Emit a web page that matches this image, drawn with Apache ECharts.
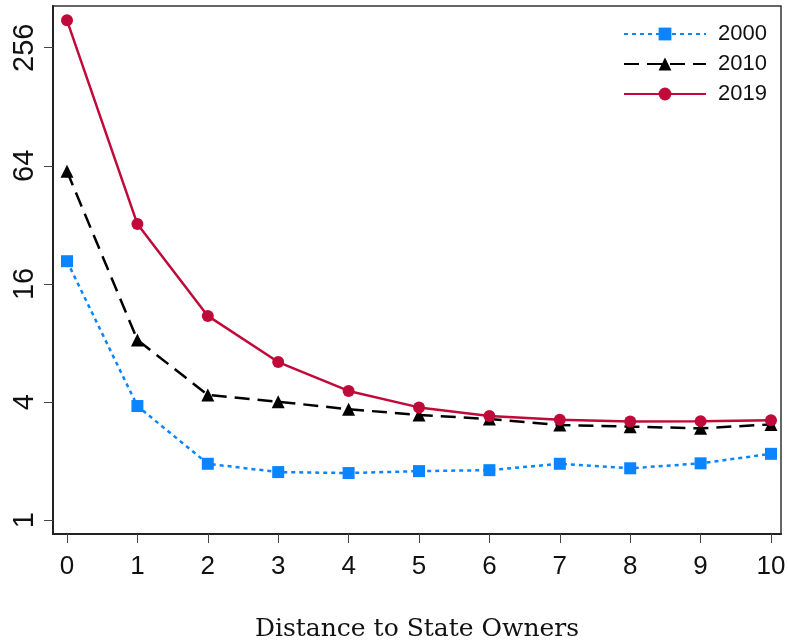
<!DOCTYPE html>
<html>
<head>
<meta charset="utf-8">
<script src="https://cdn.jsdelivr.net/npm/echarts@6/dist/echarts.min.js"></script>
<style>html,body{margin:0;padding:0;background:#fff}#c{width:788px;height:644px}</style>
</head>
<body>
<div id="c"></div>
<script>
const distances = [0,1,2,3,4,5,6,7,8,9,10];
const v2000 = [20.9, 3.82, 1.94, 1.76, 1.74, 1.78, 1.80, 1.94, 1.84, 1.95, 2.18];
const v2010 = [60.0, 8.3, 4.35, 4.02, 3.68, 3.44, 3.28, 3.06, 3.00, 2.94, 3.08];
const v2019 = [353, 32.3, 11.0, 6.4, 4.56, 3.76, 3.40, 3.25, 3.19, 3.20, 3.23];
const yTicks = [1, 4, 16, 64, 256];
const xTitle = 'Distance to State Owners';

const pairs = arr => distances.map((d, i) => [d, arr[i]]);
const chart = echarts.init(document.getElementById('c'));
const sans = 'Liberation Sans';
chart.setOption({
  animation: false,
  backgroundColor: '#fff',
  grid: {left: 53, right: 7, top: 6, bottom: 110, outerBoundsMode: 'none', containLabel: false,
         show: true, borderColor: '#333', borderWidth: 1.5, backgroundColor: 'transparent'},
  xAxis: {
    type: 'value', min: -0.199, max: 10.142,
    name: xTitle, nameLocation: 'middle', nameGap: 83,
    nameTextStyle: {fontFamily: 'DejaVu Serif', fontSize: 25, color: '#111'},
    axisLine: {onZero: false, lineStyle: {color: '#222', width: 2}},
    axisTick: {show: true, length: 9, lineStyle: {color: '#444', width: 1}, customValues: distances},
    axisLabel: {fontFamily: sans, fontSize: 26, color: '#111', margin: 20, customValues: distances},
    splitLine: {show: false}
  },
  yAxis: {
    type: 'log', logBase: 2, min: 0.851, max: 417.6,
    axisLine: {show: true, onZero: false, lineStyle: {color: '#222', width: 2}},
    axisTick: {show: true, length: 9, lineStyle: {color: '#444', width: 1}, customValues: yTicks},
    axisLabel: {fontFamily: sans, fontSize: 29, color: '#111', rotate: 90, margin: 14, customValues: yTicks},
    splitLine: {show: false}
  },
  legend: {
    orient: 'vertical', left: 618, top: 18, itemWidth: 82, itemHeight: 16, itemGap: 8,
    textStyle: {fontFamily: sans, fontSize: 22, color: '#111', padding: [0, 0, 0, 7], lineHeight: 22},
    data: ['2000', '2010', '2019']
  },
  series: [
    {name: '2000', type: 'line', data: pairs(v2000), symbol: 'rect', symbolSize: 12,
     itemStyle: {color: '#0A85FF'}, lineStyle: {color: '#0A85FF', width: 2.5, type: [4, 4]}},
    {name: '2010', type: 'line', data: pairs(v2010), symbol: 'triangle', symbolSize: 13,
     itemStyle: {color: '#000'}, lineStyle: {color: '#000', width: 2.5, type: [15, 8]}},
    {name: '2019', type: 'line', data: pairs(v2019), symbol: 'circle', symbolSize: 12,
     itemStyle: {color: '#C00A3A'}, lineStyle: {color: '#C00A3A', width: 2.5}}
  ]
});
</script>
</body>
</html>
